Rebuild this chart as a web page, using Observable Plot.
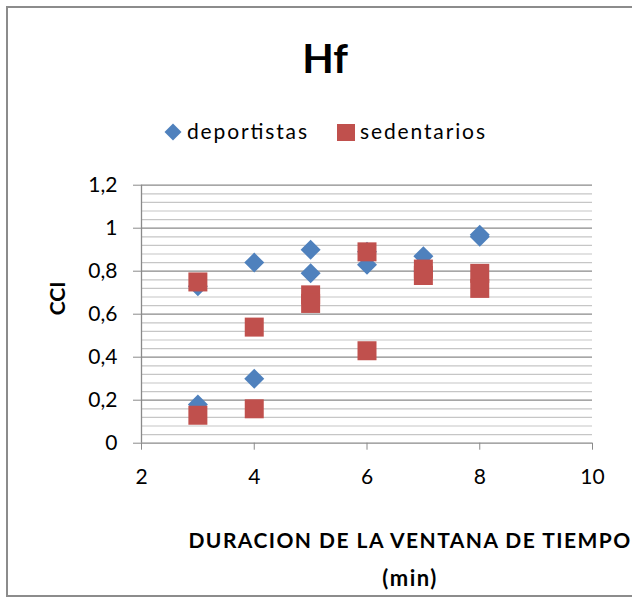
<!DOCTYPE html>
<html>
<head>
<meta charset="utf-8">
<script src="https://cdn.jsdelivr.net/npm/d3@7"></script>
<script src="https://cdn.jsdelivr.net/npm/@observablehq/plot@0.6"></script>
<style>
  html, body { margin: 0; padding: 0; background: #fff; }
  body { width: 632px; height: 598px; position: relative; overflow: hidden; font-family: Lato, "Open Sans", sans-serif; }
  #frame { position: absolute; left: 6px; top: 6px; width: 700px; height: 591px; box-sizing: border-box; border: 2px solid #8c8c8c; }
  #head { position: absolute; left: 0; top: 0; }
  #chart { position: absolute; left: 0; top: 160px; }
</style>
</head>
<body>
<div id="frame"></div>
<svg id="head" width="632" height="160" font-family="Lato, 'Open Sans', sans-serif">
  <text x="325" y="73" text-anchor="middle" font-size="41" font-weight="bold" fill="#000">Hf</text>
  <path d="M173,123.5 L181.5,132 L173,140.5 L164.5,132 Z" fill="#4f81bd"></path>
  <text x="187" y="139" font-size="21" fill="#000" textLength="120" lengthAdjust="spacing">deportistas</text>
  <rect x="337" y="124" width="18" height="17" fill="#c0504d"></rect>
  <text x="360" y="139" font-size="21" fill="#000" textLength="125" lengthAdjust="spacing">sedentarios</text>
</svg>
<div id="chart"></div>
<script>
// Data
const depX = [3, 3, 4, 4, 5, 5, 6, 6, 7, 7, 8, 8];
const depY = [0.73, 0.18, 0.84, 0.30, 0.90, 0.79, 0.89, 0.83, 0.87, 0.80, 0.97, 0.96];
const sedX = [3, 3, 4, 4, 5, 5, 6, 6, 7, 7, 8, 8];
const sedY = [0.75, 0.13, 0.54, 0.16, 0.69, 0.65, 0.89, 0.43, 0.81, 0.78, 0.79, 0.72];
const xTicks = [2, 4, 6, 8, 10];
const yTicks = [0, 0.2, 0.4, 0.6, 0.8, 1, 1.2];
const yMinor = [0.04, 0.08, 0.12, 0.16, 0.24, 0.28, 0.32, 0.36, 0.44, 0.48, 0.52, 0.56,
                0.64, 0.68, 0.72, 0.76, 0.84, 0.88, 0.92, 0.96, 1.04, 1.08, 1.12, 1.16];
const xTitle = "DURACION DE LA VENTANA DE TIEMPO\n(min)";
const yTitle = "CCI";

const dep = depX.map((x, i) => ({x, y: depY[i]}));
const sed = sedX.map((x, i) => ({x, y: sedY[i]}));

const diamond = {
  draw(ctx, size) {
    const r = Math.sqrt(size / Math.PI);
    ctx.moveTo(0, -r); ctx.lineTo(r, 0); ctx.lineTo(0, r); ctx.lineTo(-r, 0); ctx.closePath();
  }
};
const square = {
  draw(ctx, size) {
    const r = Math.sqrt(size / Math.PI);
    ctx.rect(-r, -r, 2 * r, 2 * r);
  }
};

const fmt = d => String(d).replace(".", ",");

const chart = Plot.plot({
  width: 632,
  height: 438,
  marginTop: 24.7,
  marginLeft: 141,
  marginRight: 40,
  marginBottom: 155.3,
  style: {fontFamily: "Lato, 'Open Sans', sans-serif", background: "transparent", overflow: "visible"},
  x: {domain: [2, 10]},
  y: {domain: [0, 1.2]},
  marks: [
    Plot.ruleY(yMinor, {x1: 2, x2: 10, stroke: "#c6c6c6", strokeWidth: 1.2}),
    Plot.ruleY(yTicks, {x1: 2, x2: 10, stroke: "#8a8a8a", strokeWidth: 1.3}),
    Plot.ruleX([2], {y1: 0, y2: 1.2, stroke: "#8a8a8a", strokeWidth: 1.3}),
    Plot.axisY(yTicks, {tickSize: 8, tickPadding: 16, stroke: "#8a8a8a", fill: "#000", fontSize: 21, tickFormat: fmt, label: null}),
    Plot.axisX(xTicks, {tickSize: 7, tickPadding: 19, stroke: "#8a8a8a", fill: "#000", fontSize: 21, label: null}),
    Plot.text([yTitle], {frameAnchor: "left", text: d => d, rotate: -90, dx: -83, dy: 1, fontSize: 21, fontWeight: "bold", fill: "#000"}),
    Plot.text([xTitle], {frameAnchor: "bottom", text: d => d, lineAnchor: "bottom", lineHeight: 1.72, dx: 43, dy: 141.3, fontSize: 21, fontWeight: "bold", fill: "#000"}),
    Plot.dot(dep, {x: "x", y: "y", symbol: diamond, r: 10, fill: "#4f81bd", stroke: null}),
    Plot.dot(sed, {x: "x", y: "y", symbol: square, r: 9.5, fill: "#c0504d", stroke: null})
  ]
});
// widen the axis title letter spacing to match the reference
d3.select(chart).selectAll("text").filter(function() { return this.textContent.includes("DURACION"); })
  .style("letter-spacing", "1.45px");
d3.select(chart).selectAll("tspan").filter(function() { return this.textContent === "(min)"; })
  .style("font-size", "22px");
document.getElementById("chart").appendChild(chart);
</script>
</body>
</html>
